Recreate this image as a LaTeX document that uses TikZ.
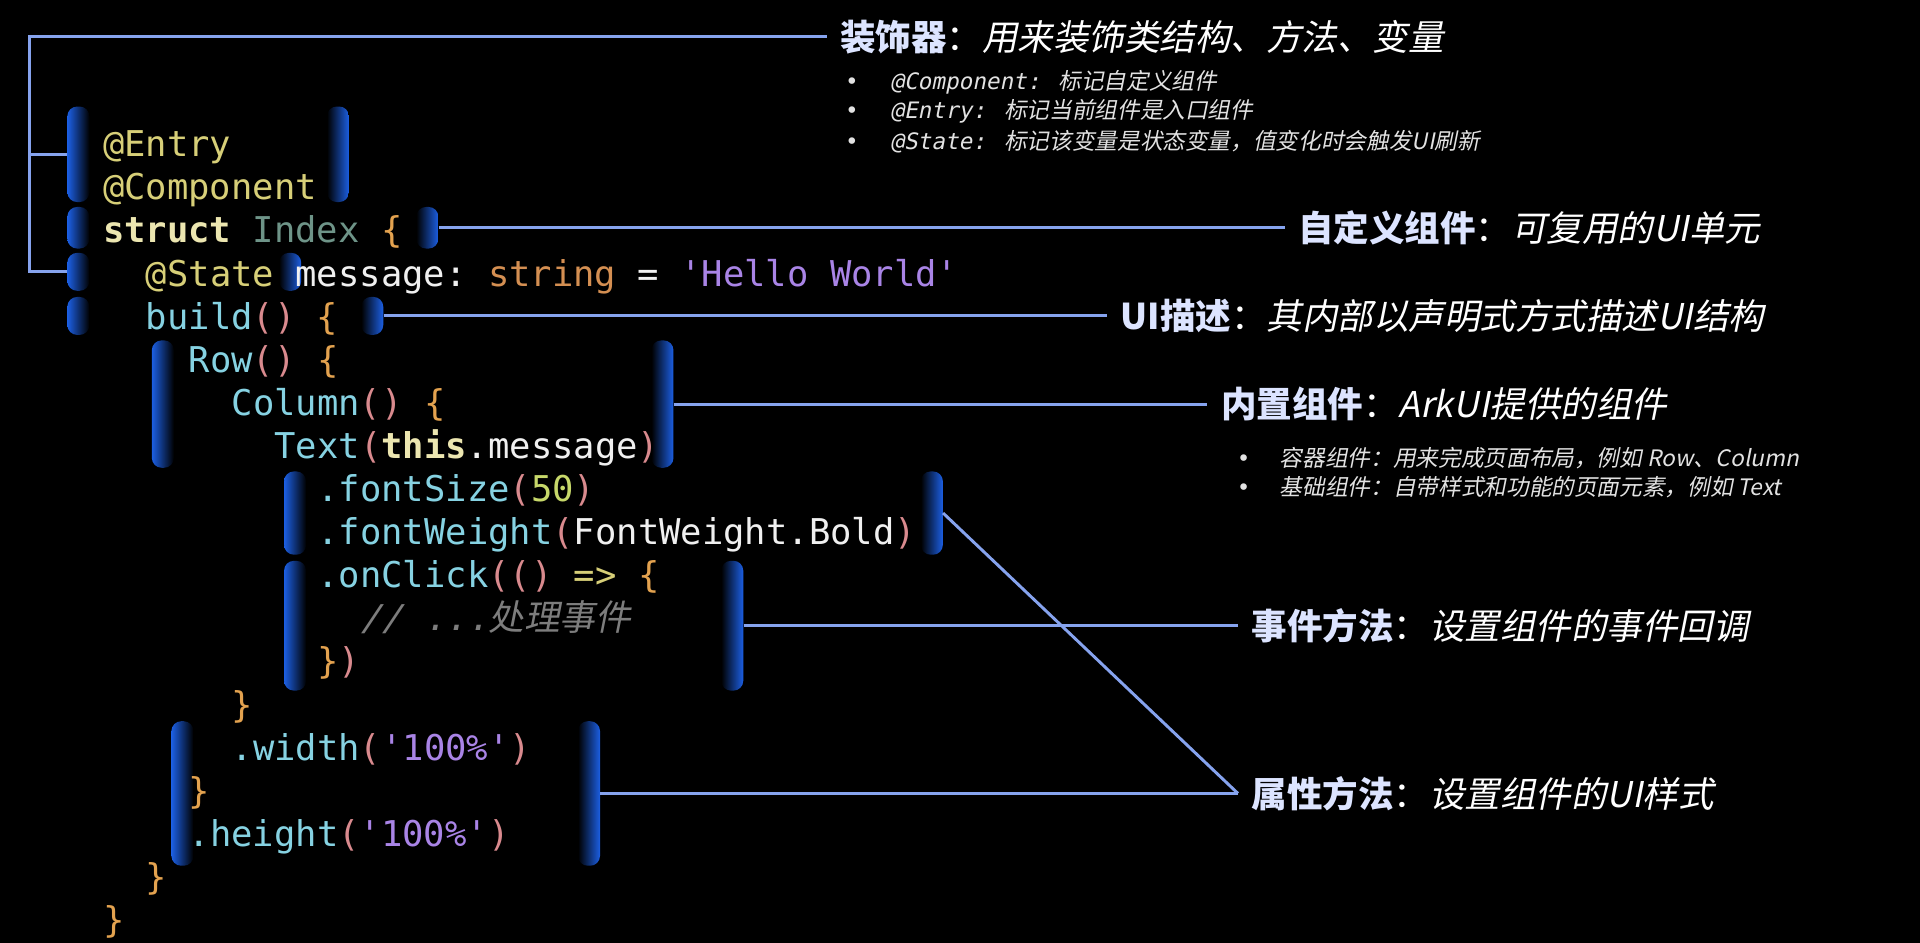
\documentclass[tikz,border=0pt]{standalone}
\usepackage{fontspec}
\usepackage{xcolor}
\setmonofont{DejaVu Sans Mono}
\newfontfamily\cjk{Noto Sans CJK SC}
\newfontfamily\cjkit{Noto Sans CJK SC}[FakeSlant=0.2]
\newfontfamily\monoit{DejaVu Sans Mono}[FakeSlant=0.2]
\definecolor{brk}{HTML}{1C5FE3}
\definecolor{linkblue}{HTML}{86A3EE}
\definecolor{lav}{HTML}{DCE4FF}
\definecolor{codewhite}{HTML}{F0F0F0}
\definecolor{deco}{HTML}{D7CF78}
\definecolor{kw}{HTML}{ECE6B0}
\definecolor{typ}{HTML}{6E9488}
\definecolor{brace}{HTML}{E3A24F}
\definecolor{fn}{HTML}{86D2E2}
\definecolor{paren}{HTML}{D98A8E}
\definecolor{str}{HTML}{A984E6}
\definecolor{tstr}{HTML}{D48F52}
\definecolor{num}{HTML}{C7D86A}
\definecolor{cmt}{HTML}{7D7D7D}
\definecolor{bulletgrey}{HTML}{E2E2E2}
\newcommand\codesize{\fontsize{29}{35}\selectfont}
\newcommand\notesize{\fontsize{29}{35}\selectfont}
\newcommand\bulletsize{\fontsize{18.5}{21}\selectfont}
\newcommand\sq{\textquotesingle}
\newcommand\lbl[2]{{\cjk\bfseries\color{lav}#1}{\cjk ：}{\cjkit #2}}
\tikzset{
    code/.style = {anchor=base west, inner sep=0pt, font=\codesize\ttfamily, text=codewhite},
    lbrk/.style = {rectangle, rounded corners=8pt, minimum width=18pt, inner sep=0pt, left color=brk, middle color=brk!85!black, right color=black},
    rbrk/.style = {rectangle, rounded corners=8pt, minimum width=18pt, inner sep=0pt, left color=black, middle color=brk!85!black, right color=brk},
    note/.style = {anchor=west, inner xsep=11pt, inner ysep=2pt, font=\notesize, text=white},
    bullet-line/.style = {anchor=west, inner sep=0pt, font=\bulletsize, text=bulletgrey},
    link/.style = {draw=linkblue, line width=2.4pt},
}

\begin{document}
\begin{tikzpicture}[x=1pt, y=-1pt]
\fill[black] (0,0) rectangle (1568,770);
\useasboundingbox (0,0) rectangle (1568,770);

% brackets round the code groups
\node[lbrk, minimum height=78pt] (g1l) at (64,126) {};
\node[rbrk, minimum height=78pt] (g1r) at (276,126) {};
\node[lbrk, minimum height=34pt] (g2l) at (64,186) {};
\node[rbrk, minimum height=34pt] (g2r) at (349,186) {};
\node[lbrk, minimum height=31pt] (g3l) at (64,222) {};
\node[rbrk, minimum height=31pt] (g3r) at (237,222) {};
\node[lbrk, minimum height=31pt] (g4l) at (64,258) {};
\node[rbrk, minimum height=31pt] (g4r) at (304,258) {};
\node[lbrk, minimum height=104pt] (g5l) at (133,330) {};
\node[rbrk, minimum height=104pt] (g5r) at (541,330) {};
\node[lbrk, minimum height=68pt] (g6l) at (241,419) {};
\node[rbrk, minimum height=68pt] (g6r) at (761,419) {};
\node[lbrk, minimum height=106pt] (g7l) at (241,511) {};
\node[rbrk, minimum height=106pt] (g7r) at (598,511) {};
\node[lbrk, minimum height=118pt] (g8l) at (149,648) {};
\node[rbrk, minimum height=118pt] (g8r) at (481,648) {};

% code
\node[code] (l0) at (84,128) {\textcolor{deco}{@Entry}};
\node[code] (l1) at (84,163.2) {\textcolor{deco}{@Component}};
\node[code] (l2) at (84,198.4) {\textcolor{kw}{\bfseries struct} \textcolor{typ}{Index} \textcolor{brace}{\{}};
\node[code] (l3) at (119,233.6) {\textcolor{deco}{@State} message: \textcolor{tstr}{string} = \textcolor{str}{\sq Hello World\sq}};
\node[code] (l4) at (119,268.8) {\textcolor{fn}{build}\textcolor{paren}{()} \textcolor{brace}{\{}};
\node[code] (l5) at (154,304) {\textcolor{fn}{Row}\textcolor{paren}{()} \textcolor{brace}{\{}};
\node[code] (l6) at (189,339.2) {\textcolor{fn}{Column}\textcolor{paren}{()} \textcolor{brace}{\{}};
\node[code] (l7) at (224,374.4) {\textcolor{fn}{Text}\textcolor{paren}{(}\textcolor{kw}{\bfseries this}.message\textcolor{paren}{)}};
\node[code] (l8) at (259,409.6) {\textcolor{fn}{.fontSize}\textcolor{paren}{(}\textcolor{num}{50}\textcolor{paren}{)}};
\node[code] (l9) at (259,444.8) {\textcolor{fn}{.fontWeight}\textcolor{paren}{(}FontWeight.Bold\textcolor{paren}{)}};
\node[code] (l10) at (259,480) {\textcolor{fn}{.onClick}\textcolor{paren}{(()} \textcolor{deco}{=>} \textcolor{brace}{\{}};
\node[code] (l11) at (294,515.2) {\textcolor{cmt}{\monoit // ...\cjkit 处理事件}};
\node[code] (l12) at (259,550.4) {\textcolor{brace}{\}}\textcolor{paren}{)}};
\node[code] (l13) at (189,585.6) {\textcolor{brace}{\}}};
\node[code] (l14) at (189,620.8) {\textcolor{fn}{.width}\textcolor{paren}{(}\textcolor{str}{\sq 100\%\sq}\textcolor{paren}{)}};
\node[code] (l15) at (154,656) {\textcolor{brace}{\}}};
\node[code] (l16) at (154,691.2) {\textcolor{fn}{.height}\textcolor{paren}{(}\textcolor{str}{\sq 100\%\sq}\textcolor{paren}{)}};
\node[code] (l17) at (119,726.4) {\textcolor{brace}{\}}};
\node[code] (l18) at (84,761.6) {\textcolor{brace}{\}}};

% notes
\node[note] (deco) at (675,30) {\lbl{装饰器}{用来装饰类结构、方法、变量}};
\node[bullet-line] (d1) at (690,67) {\makebox[37pt][l]{\ttfamily •}\monoit @Component: \cjkit 标记自定义组件};
\node[bullet-line] (d2) at (690,91) {\makebox[37pt][l]{\ttfamily •}\monoit @Entry: \cjkit 标记当前组件是入口组件};
\node[bullet-line] (d3) at (690,116) {\makebox[37pt][l]{\ttfamily •}\monoit @State: \cjkit 标记该变量是状态变量，值变化时会触发UI刷新};
\node[note] (custom) at (1049,186) {\lbl{自定义组件}{可复用的UI单元}};
\node[note] (uidesc) at (904,258) {\lbl{UI描述}{其内部以声明式方式描述UI结构}};
\node[note] (builtin) at (986,330) {\lbl{内置组件}{ArkUI提供的组件}};
\node[bullet-line] (b1) at (1010,374) {\makebox[35pt][l]{\ttfamily •}\cjkit 容器组件：用来完成页面布局，例如 Row、Column};
\node[bullet-line] (b2) at (1010,398) {\makebox[35pt][l]{\ttfamily •}\cjkit 基础组件：自带样式和功能的页面元素，例如 Text};
\node[note] (event) at (1011,511) {\lbl{事件方法}{设置组件的事件回调}};
\node[note] (attr) at (1011,648) {\lbl{属性方法}{设置组件的UI样式}};

% connectors
\coordinate (dc) at (24,30);
\draw[link] (deco.west) -- (dc) -- (dc |- g3l.west) -- (g3l.west);
\draw[link] (dc |- g1l.west) -- (g1l.west);
\draw[link] (g2r.east) -- (custom.west);
\draw[link] (g4r.east) -- (uidesc.west);
\draw[link] (g5r.east) -- (builtin.west);
\draw[link] (g7r.east) -- (event.west);
\draw[link] (g8r.east) -- (attr.west);
\draw[link] (g6r.east) -- (attr.west);
\end{tikzpicture}
\end{document}
